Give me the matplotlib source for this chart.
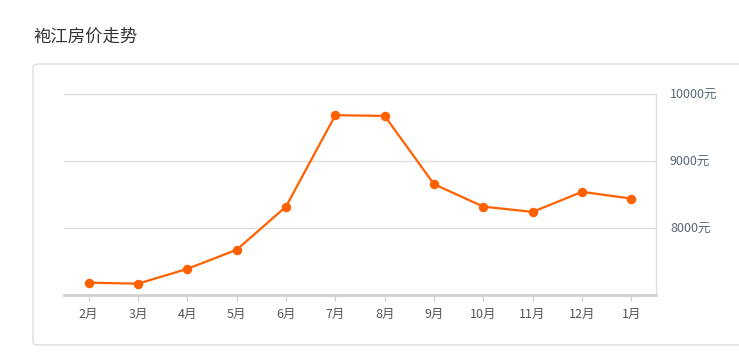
import matplotlib
matplotlib.use("Agg")
import matplotlib.pyplot as plt
from matplotlib.patches import FancyBboxPatch

plt.rcParams['font.family'] = ['Noto Sans CJK SC', 'DejaVu Sans']

# 数据
months = ["2月", "3月", "4月", "5月", "6月", "7月", "8月", "9月", "10月", "11月", "12月", "1月"]
prices = [7184, 7169, 7390, 7675, 8319, 9684, 9673, 8654, 8319, 8240, 8540, 8439]
y_ticks = [8000, 9000, 10000]
y_labels = ["8000元", "9000元", "10000元"]
title = "袍江房价走势"

fig = plt.figure(figsize=(7.39, 3.61), dpi=100)

# 外框 (放在坐标轴下面)
box = FancyBboxPatch((33 / 739, 16 / 361), 720 / 739, 281 / 361,
                     boxstyle="round,pad=0,rounding_size=0.008",
                     transform=fig.transFigure, facecolor="white",
                     edgecolor="#dddddd", linewidth=1, zorder=-5)
fig.patches.append(box)

fig.text(33 / 739, 1 - 37 / 361, title, fontsize=12.5, color="#333333",
         va="center", ha="left")

ax = fig.add_axes([64 / 739, 66 / 361, 592 / 739, 201 / 361])
ax.set_facecolor("none")
ax.set_zorder(2)
x = list(range(len(months)))
ax.plot(x, prices, color="#ff6000", linewidth=1.6, marker="o",
        markersize=5.8, zorder=3)

ax.set_xlim(-0.5, len(months) - 0.5)
ax.set_ylim(7000, 10000)
ax.set_xticks(x)
ax.set_xticklabels(months, fontsize=9, color="#555555")
ax.yaxis.tick_right()
ax.set_yticks(y_ticks)
ax.set_yticklabels(y_labels, fontsize=9, color="#556677")
ax.tick_params(axis="y", length=0, pad=10)
ax.tick_params(axis="x", length=4, color="#cccccc", pad=5)
ax.grid(axis="y", color="#dddddd", linewidth=1)
ax.set_axisbelow(True)

for s in ["top", "left"]:
    ax.spines[s].set_visible(False)
ax.spines["right"].set_color("#dddddd")
ax.spines["right"].set_linewidth(1)
ax.spines["bottom"].set_color("#d0d0d0")
ax.spines["bottom"].set_linewidth(2)

fig.savefig("out.png", dpi=100)
